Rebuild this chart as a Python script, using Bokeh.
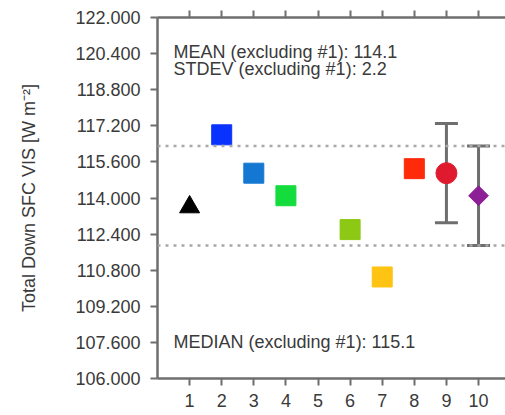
from bokeh.plotting import figure
from bokeh.models import (ColumnDataSource, FixedTicker, NumeralTickFormatter, Span,
                          Label, LinearAxis, Range1d, Whisker, TeeHead, CustomLabelingPolicy)
from bokeh.embed import file_html
from bokeh.resources import INLINE
import numpy as np

# ---- data ----
model_x = [1, 2, 3, 4, 6, 7, 8]
model_val = [113.6, 116.8, 115.1, 114.1, 112.6, 110.5, 115.3]
model_colors = ["#000000", "#0a32ff", "#1478d2", "#14dc3c", "#8cc814", "#ffc314", "#ff2a0a"]
model_markers = ["triangle", "square", "square", "square", "square", "square", "square"]

median_x = [9]
median_val = [115.1]
mean_x = [10]
mean_val = [114.1]
stdev = 2.2

y_ticks = [106.0, 107.6, 109.2, 110.8, 112.4, 114.0, 115.6, 117.2, 118.8, 120.4, 122.0]
x_ticks = [1, 2, 3, 4, 5, 6, 7, 8, 9, 10]

mean_text = "MEAN (excluding #1): 114.1"
stdev_text = "STDEV (excluding #1): 2.2"
median_text = "MEDIAN (excluding #1): 115.1"
y_label = "Total Down SFC VIS [W m\u207b\u00b2]"

FONT = "Liberation Sans"
FS = "18px"
AX = "#6e6e6e"
TXT = "#3a3a3a"

p = figure(width=505, height=415, output_backend="svg", toolbar_location=None,
           x_range=Range1d(0, 10.84), y_range=Range1d(106, 122),
           min_border_left=157, min_border_top=17, min_border_right=0, min_border_bottom=37)
p.outline_line_color = None
p.grid.visible = False
p.background_fill_color = "white"
p.border_fill_color = "white"

# axes
for ax in (p.xaxis[0], p.yaxis[0]):
    ax.axis_line_color = AX
    ax.axis_line_width = 2.5
    ax.major_tick_line_color = AX
    ax.major_tick_line_width = 2
    ax.major_tick_out = 7
    ax.major_tick_in = 0
    ax.minor_tick_line_color = None
    ax.major_label_text_font = FONT
    ax.major_label_text_font_size = FS
    ax.major_label_text_color = TXT

p.xaxis[0].ticker = FixedTicker(ticks=x_ticks)
p.xaxis[0].major_label_standoff = 8
p.yaxis[0].ticker = FixedTicker(ticks=y_ticks)
p.yaxis[0].formatter = NumeralTickFormatter(format="0.000")
p.yaxis[0].major_label_standoff = 10
p.yaxis[0].axis_label = y_label
p.yaxis[0].axis_label_text_font = FONT
p.yaxis[0].axis_label_text_font_size = FS
p.yaxis[0].axis_label_text_font_style = "normal"
p.yaxis[0].axis_label_text_color = TXT
p.yaxis[0].axis_label_standoff = 33

# top axis: ticks only, no labels
no_labels = CustomLabelingPolicy(code="""
try {
  const n = indices.size
  for (let i = 0; i < n; i++) { indices.unset(i) }
} catch (e) {}
return indices
""")
top = LinearAxis(ticker=FixedTicker(ticks=x_ticks), major_label_policy=no_labels)
top.axis_line_color = AX
top.axis_line_width = 2.5
top.major_tick_line_color = AX
top.major_tick_line_width = 2
top.major_tick_out = 7
top.major_tick_in = 0
top.minor_tick_line_color = None
top.major_label_text_font_size = "1px"
top.major_label_standoff = 0
p.add_layout(top, "above")

# dotted mean +/- stdev lines
m = mean_val[0]
for yv in (m + stdev, m - stdev):
    p.add_layout(Span(location=yv, dimension="width", line_color="#a8a8a8",
                      line_width=2.5, line_dash="3 5"))

# error bars
err_src = ColumnDataSource(data=dict(
    x=median_x + mean_x,
    lower=[median_val[0] - stdev, mean_val[0] - stdev],
    upper=[median_val[0] + stdev, mean_val[0] + stdev]))
wh = Whisker(source=err_src, base="x", lower="lower", upper="upper", dimension="height",
             line_color=AX, line_width=3,
             upper_head=TeeHead(size=23, line_color=AX, line_width=3),
             lower_head=TeeHead(size=23, line_color=AX, line_width=3))
p.add_layout(wh)

# model points
src = ColumnDataSource(data=dict(x=model_x, y=model_val, c=model_colors, mk=model_markers))
p.scatter(x="x", y="y", source=src, marker="mk", size=20, fill_color="c", line_color="c")

# median & mean
p.scatter(x=median_x, y=median_val, marker="circle", size=21, fill_color="#e01a2e",
          line_color="#e01a2e")
p.scatter(x=mean_x, y=mean_val, marker="square", angle=np.pi / 4, size=14,
          fill_color="#8c1e96", line_color="#8c1e96")

# annotations
for t, yv in ((mean_text, 120.47), (stdev_text, 119.72), (median_text, 107.6)):
    p.add_layout(Label(x=0.5, y=yv, text=t, text_font=FONT, text_font_size=FS,
                       text_color=TXT, text_baseline="alphabetic"))

open("out.html", "w").write(file_html(p, INLINE))
